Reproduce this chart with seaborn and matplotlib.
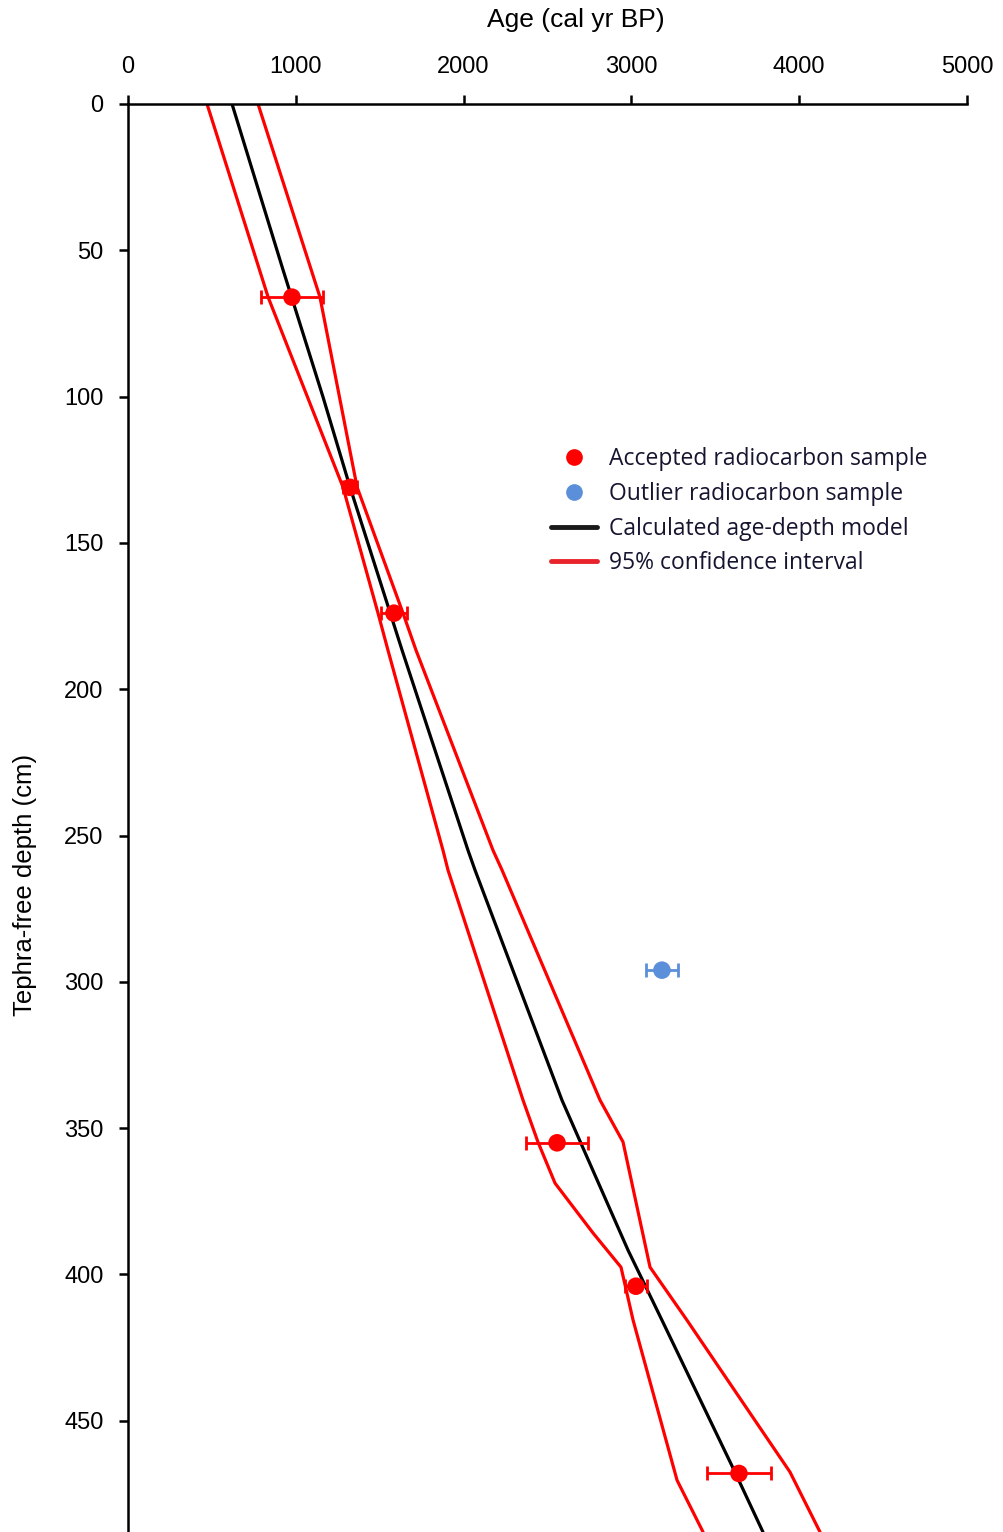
import matplotlib
matplotlib.use("Agg")
import matplotlib.pyplot as plt
from matplotlib.lines import Line2D
import seaborn as sns
import pandas as pd

# Age-depth model (depth in cm, age in cal yr BP)
model_depth = [0.0, 56.7, 100.1, 130.9, 186.6, 255.0, 261.8, 340.4, 391.7, 415.6, 467.5, 488.0]
model_age = [620, 924, 1162, 1323, 1633, 2026, 2068, 2586, 2980, 3182, 3617, 3784]

# 95% confidence envelope
lower_depth = [0.0, 66.0, 130.9, 174.0, 186.6, 255.0, 261.8, 340.4, 354.7,
               368.8, 385.8, 397.5, 415.6, 470.3, 488.0]
lower_age = [471, 835, 1281, 1490, 1549, 1877, 1907, 2354, 2443,
             2545, 2771, 2938, 3010, 3272, 3427]
upper_depth = [0.0, 66.0, 130.9, 174.0, 186.6, 255.0, 261.8, 340.4, 354.7,
               397.5, 415.6, 467.5, 488.0]
upper_age = [775, 1144, 1365, 1639, 1716, 2175, 2229, 2813, 2950,
             3111, 3331, 3945, 4124]

# Radiocarbon samples
accepted_depth = [66, 131, 174, 355, 404, 468]
accepted_age = [977, 1323, 1585, 2557, 3027, 3641]
accepted_err = [185, 40, 80, 185, 65, 188]

outlier_depth = [296]
outlier_age = [3182]
outlier_err = [93]

RED = "#ff0000"
BLUE = "#5b8fd9"

sns.set_style("white")
plt.rcParams["font.family"] = ["Liberation Sans", "DejaVu Sans"]

fig = plt.figure(figsize=(10.04, 15.32), dpi=100)
ax = fig.add_axes([128 / 1004, 0.0, (967 - 128) / 1004, 1 - 104 / 1532])

model = pd.DataFrame({"age": model_age, "depth": model_depth})
lower = pd.DataFrame({"age": lower_age, "depth": lower_depth})
upper = pd.DataFrame({"age": upper_age, "depth": upper_depth})

for env in (lower, upper):
    sns.lineplot(data=env, x="age", y="depth", sort=False, estimator=None,
                 color=RED, linewidth=2.3, ax=ax, zorder=2)
sns.lineplot(data=model, x="age", y="depth", sort=False, estimator=None,
             color="black", linewidth=2.3, ax=ax, zorder=3)

ax.errorbar(accepted_age, accepted_depth, xerr=accepted_err, fmt="none",
            ecolor=RED, elinewidth=2.0, capsize=5, capthick=2.0, zorder=4)
ax.errorbar(outlier_age, outlier_depth, xerr=outlier_err, fmt="none",
            ecolor=BLUE, elinewidth=2.0, capsize=5, capthick=2.0, zorder=4)

sns.scatterplot(x=accepted_age, y=accepted_depth, color=RED, s=160,
                edgecolor="none", ax=ax, zorder=5)
sns.scatterplot(x=outlier_age, y=outlier_depth, color=BLUE, s=160,
                edgecolor="none", ax=ax, zorder=5)

ax.set_xlim(0, 5000)
ax.set_ylim(488, 0)
ax.set_xticks([0, 1000, 2000, 3000, 4000, 5000])
ax.set_yticks([0, 50, 100, 150, 200, 250, 300, 350, 400, 450])

ax.xaxis.tick_top()
ax.xaxis.set_label_position("top")
for side in ("right", "bottom"):
    ax.spines[side].set_visible(False)
for side in ("left", "top"):
    ax.spines[side].set_linewidth(1.8)
    ax.spines[side].set_color("black")

ax.tick_params(axis="x", which="both", top=True, bottom=False, direction="out",
               length=6.5, width=1.8, pad=12, labelsize=17, colors="black")
ax.tick_params(axis="y", which="both", left=True, right=False, direction="out",
               length=6.5, width=1.8, pad=11, labelsize=17, colors="black")

ax.set_xlabel("")
ax.set_ylabel("")
fig.text(576 / 1004, 1 - 20 / 1532, "Age (cal yr BP)", ha="center", va="center",
         fontsize=19, color="black")
fig.text(25 / 1004, 1 - 885 / 1532, "Tephra-free depth (cm)", ha="center", va="center",
         rotation=90, fontsize=18.5, color="black")

handles = [
    Line2D([], [], linestyle="none", marker="o", markersize=11, color=RED),
    Line2D([], [], linestyle="none", marker="o", markersize=11, color=BLUE),
    Line2D([], [], color="#1a1a1a", linewidth=3.5, solid_capstyle="round"),
    Line2D([], [], color="#e8232b", linewidth=3.5, solid_capstyle="round"),
]
labels = ["Accepted radiocarbon sample", "Outlier radiocarbon sample",
          "Calculated age-depth model", "95% confidence interval"]
leg = ax.legend(handles, labels, loc="upper left",
                bbox_to_anchor=(551 / 1004, 1 - 447 / 1532),
                bbox_transform=fig.transFigure, frameon=False,
                prop={"family": ["Open Sans", "DejaVu Sans"], "size": 16.5},
                handlelength=2.0, handletextpad=0.52, labelspacing=0.47,
                borderaxespad=0, borderpad=0)
for t in leg.get_texts():
    t.set_color("#151530")

fig.savefig("out.png", dpi=100)
